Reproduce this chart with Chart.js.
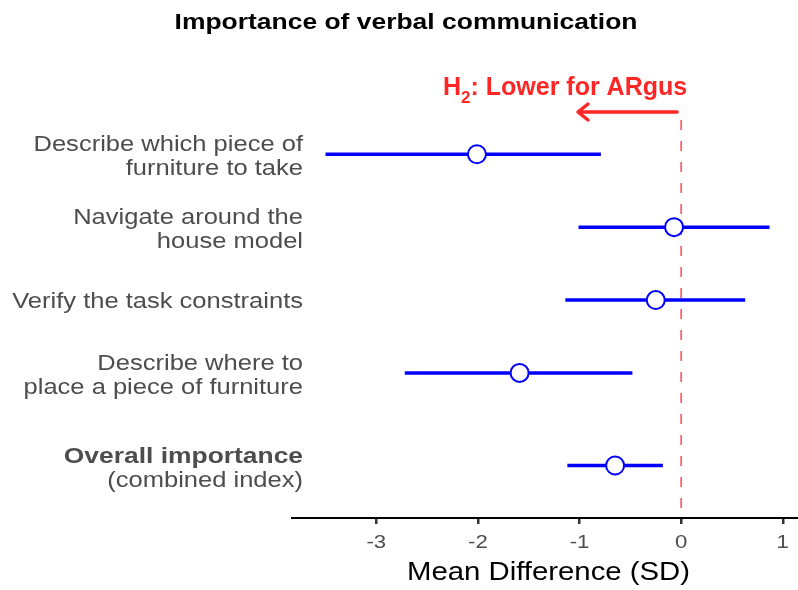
<!DOCTYPE html>
<html>
<head>
<meta charset="utf-8">
<script src="https://cdn.jsdelivr.net/npm/chart.js@4/dist/chart.umd.min.js"></script>
<style>
  html, body { margin: 0; padding: 0; background: #fff; }
  #wrap { width: 798px; height: 590px; }
</style>
</head>
<body>
<div id="wrap"><canvas id="forestChart" width="798" height="590"></canvas></div>
<script>
// Items (top to bottom), line-split for the axis labels
const items = [
    ['Describe which piece of', 'furniture to take'],
    ['Navigate around the', 'house model'],
    ['Verify the task constraints'],
    ['Describe where to', 'place a piece of furniture'],
    ['Overall importance', '(combined index)']
];
// Row positions (overall row sits a bit further down)
const rowPos = [1, 2, 3, 4, 5.27];
const meanDiff = [-2.01, -0.07, -0.25, -1.59, -0.65];
const ciLow = [-3.50, -1.01, -1.14, -2.72, -1.12];
const ciHigh = [-0.79, 0.87, 0.63, -0.48, -0.18];
const xTicks = [-3, -2, -1, 0, 1];

const FONT = '"Liberation Sans", Arial, Helvetica, sans-serif';

// text helper, sx = horizontal stretch to match the reference's wide glyphs
function drawText(ctx, text, x, y, font, align, sx) {
    ctx.save();
    ctx.font = font;
    ctx.textBaseline = 'alphabetic';
    ctx.textAlign = align;
    ctx.translate(x, y);
    ctx.scale(sx, 1);
    ctx.fillText(text, 0, 0);
    ctx.restore();
}

const errorSets = items.map((it, i) => ({
    type: 'line',
    data: [{ x: ciLow[i], y: rowPos[i] }, { x: ciHigh[i], y: rowPos[i] }],
    borderColor: '#0000FF',
    borderWidth: 3.5,
    pointRadius: 0,
    order: 2
}));

const pointSet = {
    type: 'scatter',
    data: meanDiff.map((m, i) => ({ x: m, y: rowPos[i] })),
    backgroundColor: '#FFFFFF',
    borderColor: '#0000FF',
    borderWidth: 2,
    pointRadius: 9,
    order: 1
};

const decor = {
    id: 'decor',
    beforeDatasetsDraw(chart) {
        const { ctx, chartArea, scales } = chart;
        const x0 = scales.x.getPixelForValue(0);
        ctx.save();
        ctx.strokeStyle = '#F36868';
        ctx.lineWidth = 1.8;
        ctx.setLineDash([10, 11]);
        ctx.beginPath();
        ctx.moveTo(x0, chartArea.top);
        ctx.lineTo(x0, chartArea.bottom);
        ctx.stroke();
        ctx.restore();
    },
    afterDraw(chart) {
        const { ctx, scales, chartArea } = chart;
        ctx.save();
        // title
        ctx.fillStyle = '#000';
        drawText(ctx, 'Importance of verbal communication', 406, 29, 'bold 21.5px ' + FONT, 'center', 1.23);

        // y labels
        ctx.fillStyle = '#4D4D4D';
        items.forEach((lines, i) => {
            const yc = scales.y.getPixelForValue(rowPos[i]);
            const lh = 24;
            const first = lines.length === 1 ? yc + 8 : yc - 3;
            lines.forEach((t, k) => {
                const bold = i === items.length - 1 && k === 0;
                drawText(ctx, t, 303, first + k * lh, (bold ? 'bold ' : '') + '22px ' + FONT, 'right', bold ? 1.2 : 1.16);
            });
        });

        // x tick labels
        xTicks.forEach(v => {
            drawText(ctx, String(v), scales.x.getPixelForValue(v), 548, '18.5px ' + FONT, 'center', 1.2);
        });
        // x axis title
        ctx.fillStyle = '#000';
        drawText(ctx, 'Mean Difference (SD)', (chartArea.left + chartArea.right) / 2 + 4, 580, '25.5px ' + FONT, 'center', 1.15);

        // H2 annotation
        const red = '#FF2626';
        ctx.fillStyle = red;
        ctx.textAlign = 'left';
        ctx.textBaseline = 'alphabetic';
        let x = 443;
        const base = 95;
        ctx.font = 'bold 25px ' + FONT;
        ctx.fillText('H', x, base);
        x += ctx.measureText('H').width;
        ctx.font = 'bold 17px ' + FONT;
        ctx.fillText('2', x, base + 8);
        x += ctx.measureText('2').width;
        ctx.font = 'bold 25px ' + FONT;
        ctx.fillText(': Lower for ARgus', x, base);

        const x0 = scales.x.getPixelForValue(0);
        const ay = 112;
        ctx.strokeStyle = red;
        ctx.lineWidth = 3.5;
        ctx.lineCap = 'round';
        ctx.lineJoin = 'round';
        ctx.beginPath();
        ctx.moveTo(x0 - 4, ay);
        ctx.lineTo(578, ay);
        ctx.moveTo(588, ay - 8);
        ctx.lineTo(578, ay);
        ctx.lineTo(588, ay + 8);
        ctx.stroke();
        ctx.restore();
    }
};

new Chart(document.getElementById('forestChart'), {
    data: { datasets: [...errorSets, pointSet] },
    options: {
        responsive: false,
        animation: false,
        layout: { autoPadding: false, padding: { left: 292, right: 1, top: 120, bottom: 66 } },
        plugins: { legend: { display: false }, tooltip: { enabled: false } },
        scales: {
            x: {
                type: 'linear',
                min: -3.83,
                max: 1.14,
                afterBuildTicks: axis => { axis.ticks = xTicks.map(v => ({ value: v })); },
                grid: { drawOnChartArea: false, drawTicks: true, tickLength: 6, color: '#333', lineWidth: 2.5 },
                border: { display: true, color: '#000', width: 2 },
                ticks: { display: false },
                title: { display: false }
            },
            y: {
                type: 'linear',
                display: false,
                reverse: true,
                min: 0.53,
                max: 5.99
            }
        }
    },
    plugins: [decor]
});
</script>
</body>
</html>
